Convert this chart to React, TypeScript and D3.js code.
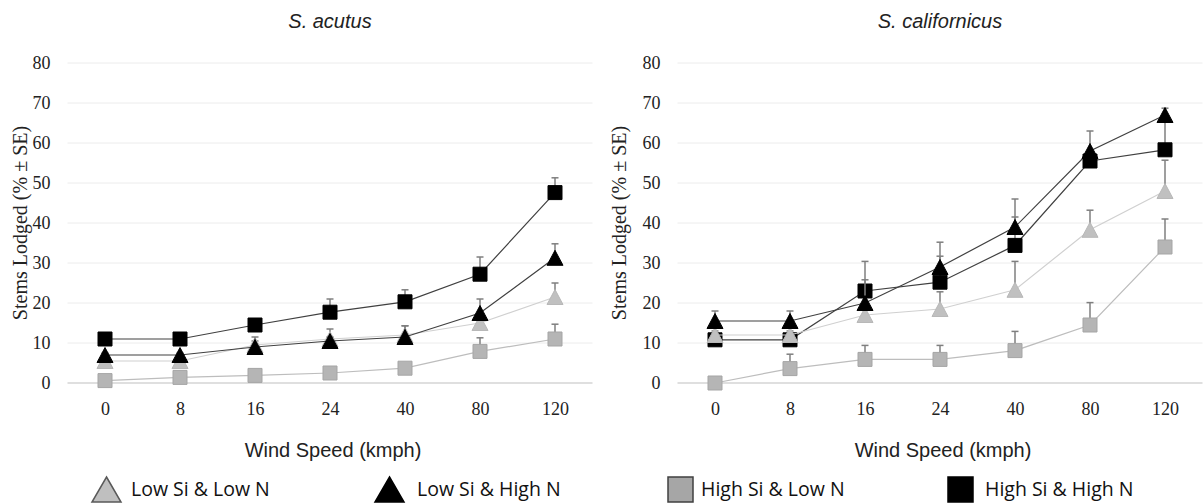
import React, { useEffect, useRef } from "react";
import * as d3 from "d3";

const width = 1203;
const height = 504;

const speeds = ["0", "8", "16", "24", "40", "80", "120"];
const yTicks = [0, 10, 20, 30, 40, 50, 60, 70, 80];

// S. acutus  (mean % lodged, and SE)
const acutusLowSiLowN = [5.5, 5.5, 9.5, 11, 12, 15, 21.5];
const acutusLowSiLowNSe = [0.5, 0.5, 1, 2.5, 2.3, 1.5, 3.5];
const acutusLowSiHighN = [7, 7, 9, 10.5, 11.5, 17.5, 31.3];
const acutusLowSiHighNSe = [0.5, 0.5, 2.5, 1, 2.8, 3.5, 3.5];
const acutusHighSiLowN = [0.6, 1.4, 1.9, 2.5, 3.7, 7.9, 11];
const acutusHighSiLowNSe = [0.3, 0.5, 0.5, 0.5, 0.5, 3.4, 3.7];
const acutusHighSiHighN = [11, 11, 14.5, 17.7, 20.3, 27.2, 47.6];
const acutusHighSiHighNSe = [0.3, 0.3, 1.5, 3.3, 3, 4.3, 3.7];

// S. californicus
const califLowSiLowN = [12, 12, 17, 18.5, 23.3, 38.3, 48];
const califLowSiLowNSe = [1, 1, 1.5, 4.3, 7.1, 4.9, 7.7];
const califLowSiHighN = [15.5, 15.5, 20, 29, 39, 58, 67];
const califLowSiHighNSe = [2.5, 2.5, 5.8, 6.2, 7, 5, 1.7];
const califHighSiLowN = [0, 3.6, 5.9, 5.9, 8.1, 14.5, 34];
const califHighSiLowNSe = [0, 3.6, 3.5, 3.5, 4.8, 5.6, 7];
const califHighSiHighN = [10.8, 10.8, 23, 25.2, 34.4, 55.5, 58.3];
const califHighSiHighNSe = [0.5, 0.5, 7.4, 6.5, 7.1, 2, 8.2];

const legendNames = ["Low Si & Low N", "Low Si & High N", "High Si & Low N", "High Si & High N"];

const styles: any = {
  "Low Si & Low N": { shape: "tri", fill: "#c0c0c0", stroke: "#b8b8b8", line: "#d0d0d0", legendFill: "#bfbfbf", legendStroke: "#595959" },
  "Low Si & High N": { shape: "tri", fill: "#000", stroke: "#000", line: "#404040", legendFill: "#000", legendStroke: "#000" },
  "High Si & Low N": { shape: "sq", fill: "#b5b5b5", stroke: "#a5a5a5", line: "#bdbdbd", legendFill: "#a6a6a6", legendStroke: "#404040" },
  "High Si & High N": { shape: "sq", fill: "#000", stroke: "#000", line: "#404040", legendFill: "#000", legendStroke: "#000" },
};

const panels = [
  {
    title: "S. acutus", x0: 67.5, titleX: 27,
    series: [
      { name: "High Si & Low N", values: acutusHighSiLowN, se: acutusHighSiLowNSe },
      { name: "High Si & High N", values: acutusHighSiHighN, se: acutusHighSiHighNSe },
      { name: "Low Si & Low N", values: acutusLowSiLowN, se: acutusLowSiLowNSe },
      { name: "Low Si & High N", values: acutusLowSiHighN, se: acutusLowSiHighNSe },
    ],
  },
  {
    title: "S. californicus", x0: 677.5, titleX: 626,
    series: [
      { name: "High Si & Low N", values: califHighSiLowN, se: califHighSiLowNSe },
      { name: "High Si & High N", values: califHighSiHighN, se: califHighSiHighNSe },
      { name: "Low Si & Low N", values: califLowSiLowN, se: califLowSiLowNSe },
      { name: "Low Si & High N", values: califLowSiHighN, se: califLowSiHighNSe },
    ],
  },
];

const plotW = 525;
const plotTop = 63, plotBottom = 383;

function marker(shape: string, w: number, h: number) {
  if (shape === "tri") return `M0,${-h / 2}L${w / 2},${h / 2}L${-w / 2},${h / 2}Z`;
  return `M${-w / 2},${-h / 2}h${w}v${h}h${-w}Z`;
}

export default function App() {
  const ref = useRef<SVGSVGElement>(null);

  useEffect(() => {
    const svg = d3.select(ref.current);
    svg.selectAll("*").remove();

    const y = d3.scaleLinear().domain([0, 80]).range([plotBottom, plotTop]);

    panels.forEach(p => {
      const x = d3.scalePoint().domain(speeds).range([p.x0, p.x0 + plotW]).padding(0.5);
      const g = svg.append("g");

      // gridlines
      g.selectAll("line.grid")
        .data(yTicks)
        .enter()
        .append("line")
        .attr("x1", p.x0)
        .attr("x2", p.x0 + plotW)
        .attr("y1", d => y(d))
        .attr("y2", d => y(d))
        .attr("stroke", d => (d === 0 ? "#d4d4d4" : "#ececec"))
        .attr("stroke-width", d => (d === 0 ? 1.3 : 1));

      const yaxis = d3.axisLeft(y).tickValues(yTicks).tickSize(0).tickPadding(17);
      const ya = g.append("g").attr("transform", "translate(" + p.x0 + ",0)").call(yaxis);
      ya.select(".domain").remove();
      ya.selectAll("text").style("font", "18px 'Liberation Serif'").attr("fill", "#222");

      const xaxis = d3.axisBottom(x).tickSize(0).tickPadding(19);
      const xa = g.append("g").attr("transform", "translate(0," + plotBottom + ")").call(xaxis);
      xa.select(".domain").remove();
      xa.selectAll("text").style("font", "18px 'Liberation Serif'").attr("fill", "#222");

      p.series.forEach(s => {
        const st = styles[s.name];
        const pts = s.values.map((v, i) => ({ x: x(speeds[i]) as number, v, se: s.se[i] }));

        // error bars (upper only)
        const eb = g.append("g").attr("stroke", "#7f7f7f").attr("stroke-width", 1.5);
        pts.filter(d => d.se > 0).forEach(d => {
          eb.append("line").attr("x1", d.x).attr("x2", d.x).attr("y1", y(d.v)).attr("y2", y(d.v + d.se));
          eb.append("line").attr("x1", d.x - 3.5).attr("x2", d.x + 3.5).attr("y1", y(d.v + d.se)).attr("y2", y(d.v + d.se));
        });

        g.append("path")
          .datum(pts)
          .attr("fill", "none")
          .attr("stroke", st.line)
          .attr("stroke-width", 1.2)
          .attr("d", d3.line<any>().x(d => d.x).y(d => y(d.v)));

        g.selectAll(null)
          .data(pts)
          .enter()
          .append("path")
          .attr("transform", d => "translate(" + d.x + "," + y(d.v) + ")")
          .attr("d", st.shape === "tri" ? marker("tri", 16, 15) : marker("sq", 14, 14))
          .attr("fill", st.fill)
          .attr("stroke", st.stroke)
          .attr("stroke-width", 1);
      });

      // chart title
      g.append("text")
        .attr("x", p.x0 + plotW / 2)
        .attr("y", 28)
        .attr("text-anchor", "middle")
        .style("font", "italic 20px 'Liberation Sans'")
        .attr("fill", "#222")
        .text(p.title);

      g.append("text")
        .attr("x", p.x0 + plotW / 2 + 3)
        .attr("y", 457)
        .attr("text-anchor", "middle")
        .style("font", "20px 'Liberation Sans'")
        .attr("fill", "#222")
        .text("Wind Speed (kmph)");

      g.append("text")
        .attr("text-anchor", "middle")
        .attr("transform", "translate(" + p.titleX + "," + (plotTop + plotBottom) / 2 + ")rotate(-90)")
        .style("font", "20px 'Liberation Serif'")
        .attr("fill", "#222")
        .text("Stems Lodged (% \u00b1 SE)");
    });

    // legend
    const legendX = [92, 375, 668, 948];
    const legendTextX = [131, 417, 701, 985];
    legendNames.forEach((name, i) => {
      const st = styles[name];
      const w = st.shape === "tri" ? 29 : 25;
      const h = 25;
      svg.append("path")
        .attr("transform", "translate(" + (legendX[i] + w / 2) + "," + (477 + h / 2) + ")")
        .attr("d", marker(st.shape, w, h))
        .attr("fill", st.legendFill)
        .attr("stroke", st.legendStroke)
        .attr("stroke-width", 1.5);
      svg.append("text")
        .attr("x", legendTextX[i])
        .attr("y", 496)
        .style("font", "19.5px 'Open Sans'")
        .attr("fill", "#111")
        .text(name);
    });
  }, []);

  return (
    <div style={{ position: "absolute", left: 0, top: 0 }}>
      <svg ref={ref} width={width} height={height} style={{ display: "block", background: "#fff" }} />
    </div>
  );
}
